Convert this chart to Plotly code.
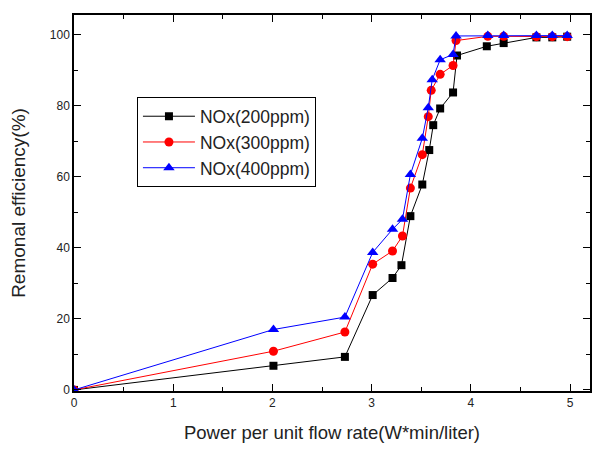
import plotly.graph_objects as go

x_200 = [0, 2.01, 2.73, 3.01, 3.21, 3.30, 3.39, 3.51, 3.58, 3.62, 3.69, 3.82, 3.86, 4.16, 4.33, 4.66, 4.82, 4.97]
y_200 = [0, 6.8, 9.3, 26.7, 31.5, 35.1, 48.9, 57.8, 67.5, 74.5, 79.2, 83.7, 94.1, 96.7, 97.6, 99.2, 99.2, 99.4]

x_300 = [0, 2.01, 2.73, 3.01, 3.21, 3.31, 3.39, 3.51, 3.57, 3.60, 3.69, 3.82, 3.85, 4.17, 4.33, 4.66, 4.82, 4.97]
y_300 = [0, 10.9, 16.3, 35.4, 39.1, 43.3, 56.8, 66.2, 76.9, 84.3, 88.8, 91.3, 98.3, 99.5, 99.5, 99.4, 99.4, 99.4]

x_400 = [0, 2.01, 2.73, 3.01, 3.21, 3.31, 3.39, 3.51, 3.57, 3.61, 3.69, 3.82, 3.85, 4.17, 4.33, 4.66, 4.82, 4.97]
y_400 = [0, 17.0, 20.5, 38.7, 45.2, 48.0, 60.6, 70.8, 79.4, 87.3, 92.9, 94.4, 99.6, 99.7, 99.7, 99.7, 99.7, 99.7]

names = ["NOx(200ppm)", "NOx(300ppm)", "NOx(400ppm)"]
colors = ["#000000", "#ff0000", "#0000ff"]
symbols = ["square", "circle", "triangle-up"]
sizes = [8, 9, 10]

FONT = "Liberation Sans, Arial"
TXT = "#222"

fig = go.Figure()
for xs, ys, nm, c, s, sz in zip([x_200, x_300, x_400], [y_200, y_300, y_400], names, colors, symbols, sizes):
    fig.add_trace(go.Scatter(x=xs, y=ys, name=nm, mode="lines+markers",
                             line=dict(color=c, width=1),
                             marker=dict(color=c, symbol=s, size=sz)))

axis_common = dict(showline=True, linecolor="black", linewidth=1.5, mirror="ticks",
                   ticks="inside", ticklen=7, tickwidth=1.2, tickcolor="black",
                   showgrid=False, zeroline=False, automargin=False,
                   tickfont=dict(family=FONT, size=12, color=TXT))

fig.update_xaxes(range=[0, 5.2], dtick=1, tick0=0,
                 minor=dict(dtick=0.5, ticks="inside", ticklen=4, tickcolor="black", tickwidth=1),
                 title=dict(text="Power per unit flow rate(W*min/liter)",
                            font=dict(family=FONT, size=18.5, color=TXT), standoff=17),
                 **axis_common)
fig.update_yaxes(range=[-0.3, 105.5], dtick=20, tick0=0,
                 minor=dict(dtick=10, ticks="inside", ticklen=4, tickcolor="black", tickwidth=1),
                 title=dict(text="Remonal efficiency(%)",
                            font=dict(family=FONT, size=19, color=TXT), standoff=20),
                 **axis_common)

# page body has an 8px margin; figure is sized/offset to compensate
fig.update_layout(
    width=608, height=454,
    margin=dict(l=66, r=26, t=7, b=71),
    plot_bgcolor="white", paper_bgcolor="white",
    legend=dict(x=0.122, y=0.781, xanchor="left", yanchor="top",
                bordercolor="black", borderwidth=1, bgcolor="white",
                font=dict(family=FONT, size=17.5, color=TXT),
                tracegroupgap=0, itemwidth=52),
    showlegend=True,
)

fig.write_html("out.html")
